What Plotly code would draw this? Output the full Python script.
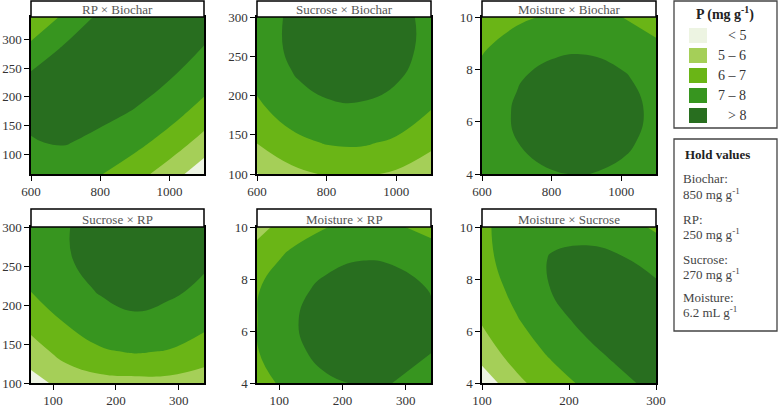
import plotly.graph_objects as go

# factor grids (x / y values of the read-off points)
biochar = [600, 700, 800, 900, 1000, 1100]
rp = [65, 120, 175, 230, 285, 340]
sucrose = [100, 140, 180, 220, 260, 300]
moisture = [4.0, 5.2, 6.4, 7.6, 8.8, 10.0]

# predicted P (mg g-1), rows go bottom -> top, columns left -> right
p_rp_biochar = [
    [7.62, 7.46, 7.05, 6.40, 5.50, 4.36],
    [7.97, 8.05, 7.77, 7.30, 6.59, 5.62],
    [8.11, 8.30, 8.25, 7.96, 7.42, 6.64],
    [8.30, 8.36, 8.49, 8.37, 8.01, 7.42],
    [7.20, 8.17, 8.48, 8.54, 8.37, 7.97],
    [6.35, 7.16, 8.22, 8.48, 8.50, 8.30],
]
p_sucrose_biochar = [
    [4.97, 5.73, 6.09, 6.14, 5.87, 5.29],
    [6.03, 6.71, 7.07, 7.12, 6.85, 6.27],
    [6.76, 7.44, 7.80, 7.85, 7.58, 6.98],
    [7.25, 7.93, 8.29, 8.34, 8.07, 7.49],
    [7.49, 8.17, 8.53, 8.58, 8.31, 7.73],
    [7.49, 8.17, 8.53, 8.58, 8.31, 7.73],
]
p_moisture_biochar = [
    [7.01, 7.62, 7.95, 8.02, 7.82, 7.34],
    [7.38, 7.99, 8.33, 8.40, 8.20, 7.72],
    [7.49, 8.10, 8.44, 8.51, 8.31, 7.83],
    [7.33, 7.94, 8.28, 8.35, 8.14, 7.67],
    [6.90, 7.51, 7.85, 7.91, 7.71, 7.24],
    [6.19, 6.80, 7.14, 7.21, 7.01, 6.53],
]
p_sucrose_rp = [
    [4.62, 5.35, 5.65, 5.70, 5.70, 5.50],
    [5.54, 6.37, 6.88, 7.07, 6.94, 6.49],
    [6.40, 7.08, 7.59, 7.88, 7.70, 7.30],
    [7.05, 7.59, 8.10, 8.29, 8.16, 7.85],
    [7.30, 7.90, 8.41, 8.60, 8.47, 8.15],
    [7.40, 7.92, 8.51, 8.70, 8.57, 8.25],
]
p_moisture_rp = [
    [6.57, 7.37, 7.87, 8.08, 7.99, 7.61],
    [6.95, 7.78, 8.29, 8.49, 8.41, 8.02],
    [6.98, 7.90, 8.41, 8.61, 8.52, 8.14],
    [6.93, 7.73, 8.23, 8.44, 8.35, 7.96],
    [6.45, 7.25, 7.75, 7.96, 7.87, 7.49],
    [5.68, 6.48, 6.99, 7.19, 7.10, 6.72],
]
p_moisture_sucrose = [
    [4.35, 5.77, 6.57, 7.20, 7.77, 8.30],
    [5.53, 6.45, 7.17, 7.77, 8.30, 8.54],
    [6.09, 6.93, 7.65, 8.27, 8.54, 8.48],
    [6.45, 7.29, 8.03, 8.42, 8.45, 8.18],
    [6.69, 7.55, 8.06, 8.21, 8.06, 7.66],
    [6.83, 7.46, 7.73, 7.70, 7.42, 6.85],
]

band_labels = ["< 5", "5 \u2013 6", "6 \u2013 7", "7 \u2013 8", "> 8"]
band_colors = ["#edf4e2", "#a5cf58", "#6ab516", "#37951f", "#286e1f"]

hold_names = ["Biochar:", "RP:", "Sucrose:", "Moisture:"]
hold_values = ["850 mg g<sup>-1</sup>", "250 mg g<sup>-1</sup>",
               "270 mg g<sup>-1</sup>", "6.2 mL g<sup>-1</sup>"]

W, H = 778, 412
FONT = "Liberation Serif"


def fx(px):
    return px / W


def fy(py):
    return 1 - py / H


# stepwise colour scale: band midpoints fall on 0, .25, .5, .75, 1
cscale = []
edges = [0, 0.125, 0.375, 0.625, 0.875, 1]
for i, c in enumerate(band_colors):
    cscale.append([edges[i], c])
    cscale.append([edges[i + 1], c])

panels = [
    ("RP \u00d7 Biochar", biochar, rp, p_rp_biochar, [600, 1100], [65, 340], [600, 800, 1000], [100, 150, 200, 250, 300]),
    ("Sucrose \u00d7 Biochar", biochar, sucrose, p_sucrose_biochar, [600, 1100], [100, 300], [600, 800, 1000], [100, 150, 200, 250, 300]),
    ("Moisture \u00d7 Biochar", biochar, moisture, p_moisture_biochar, [600, 1100], [4, 10], [600, 800, 1000], [4, 6, 8, 10]),
    ("Sucrose \u00d7 RP", rp, sucrose, p_sucrose_rp, [65, 340], [100, 300], [100, 200, 300], [100, 150, 200, 250, 300]),
    ("Moisture \u00d7 RP", rp, moisture, p_moisture_rp, [65, 340], [4, 10], [100, 200, 300], [4, 6, 8, 10]),
    ("Moisture \u00d7 Sucrose", sucrose, moisture, p_moisture_sucrose, [100, 300], [4, 10], [100, 200, 300], [4, 6, 8, 10]),
]

cols = [(31, 204), (257, 431), (482, 656)]
rows = [(17, 174, 1), (227, 383, 209)]  # plot top, plot bottom, strip top

fig = go.Figure()
shapes = []
annotations = []
axis_font = dict(family=FONT, size=13, color="#333")

for i, (title, xs, ys, z, xr, yr, xt, yt) in enumerate(panels):
    r, c = divmod(i, 3)
    x0, x1 = cols[c]
    top, bottom, strip_top = rows[r]
    n = "" if i == 0 else str(i + 1)
    fig.add_trace(go.Contour(
        x=xs, y=ys, z=z, xaxis="x" + n, yaxis="y" + n,
        autocontour=False,
        contours=dict(start=5, end=8, size=1, coloring="fill", showlines=False),
        colorscale=cscale, showscale=False,
        line=dict(width=0, smoothing=1.3),
        hoverinfo="skip",
    ))
    common = dict(showline=True, linecolor="black", linewidth=1.5, mirror=True,
                  ticks="outside", ticklen=5, tickwidth=1.2, tickcolor="black",
                  showgrid=False, zeroline=False, tickfont=axis_font,
                  automargin=False)
    fig.layout["xaxis" + n] = dict(domain=[fx(x0), fx(x1)], range=xr, tickvals=xt,
                                   anchor="y" + n, **common)
    fig.layout["yaxis" + n] = dict(domain=[fy(bottom), fy(top)], range=yr, tickvals=yt,
                                   anchor="x" + n, **common)
    # strip with panel title
    shapes.append(dict(type="rect", xref="paper", yref="paper",
                       x0=fx(x0), x1=fx(x1), y0=fy(top), y1=fy(strip_top),
                       fillcolor="white", line=dict(color="black", width=1.5)))
    annotations.append(dict(text=title, xref="paper", yref="paper",
                            x=fx((x0 + x1) / 2), y=fy((top + strip_top) / 2 + 1),
                            showarrow=False, xanchor="center", yanchor="middle",
                            font=dict(family=FONT, size=13, color="#555")))

# legend box
shapes.append(dict(type="rect", xref="paper", yref="paper",
                   x0=fx(674), x1=fx(777), y0=fy(128), y1=fy(1),
                   line=dict(color="#444", width=1.3), fillcolor="white"))
annotations.append(dict(text="<b>P (mg g<sup>-1</sup>)</b>", xref="paper", yref="paper",
                        x=fx(725), y=fy(14), showarrow=False, xanchor="center",
                        yanchor="middle", font=dict(family=FONT, size=14, color="#222")))
for k, (lab, col) in enumerate(zip(band_labels, band_colors)):
    yt0 = 28 + 20 * k
    shapes.append(dict(type="rect", xref="paper", yref="paper",
                       x0=fx(689), x1=fx(707), y0=fy(yt0 + 15), y1=fy(yt0),
                       fillcolor=col, line=dict(width=0)))
    annotations.append(dict(text=lab, xref="paper", yref="paper",
                            x=fx(748), y=fy(yt0 + 7.5), showarrow=False,
                            xanchor="right", yanchor="middle",
                            font=dict(family=FONT, size=14, color="#333")))

# hold values box
shapes.append(dict(type="rect", xref="paper", yref="paper",
                   x0=fx(674), x1=fx(777), y0=fy(331), y1=fy(139),
                   line=dict(color="#444", width=1.3), fillcolor="white"))
annotations.append(dict(text="<b>Hold values</b>", xref="paper", yref="paper",
                        x=fx(683), y=fy(154), showarrow=False, xanchor="left",
                        yanchor="middle", font=dict(family=FONT, size=13, color="#222")))
name_y = [179, 219, 259, 297]
for nm, val, yy in zip(hold_names, hold_values, name_y):
    annotations.append(dict(text=nm, xref="paper", yref="paper",
                            x=fx(681), y=fy(yy), showarrow=False, xanchor="left",
                            yanchor="middle", font=dict(family=FONT, size=13, color="#444")))
    annotations.append(dict(text=val, xref="paper", yref="paper",
                            x=fx(681), y=fy(yy + 15), showarrow=False, xanchor="left",
                            yanchor="middle", font=dict(family=FONT, size=13, color="#444")))

fig.update_layout(
    width=W, height=H,
    margin=dict(l=0, r=0, t=0, b=0),
    paper_bgcolor="white", plot_bgcolor="white",
    showlegend=False,
    shapes=shapes, annotations=annotations,
)

# drop the default page margin so the 778x412 figure fills the window
fig.write_html("out.html", config={"displayModeBar": False},
               post_script="document.body.style.margin='0';document.body.style.overflow='hidden';")
